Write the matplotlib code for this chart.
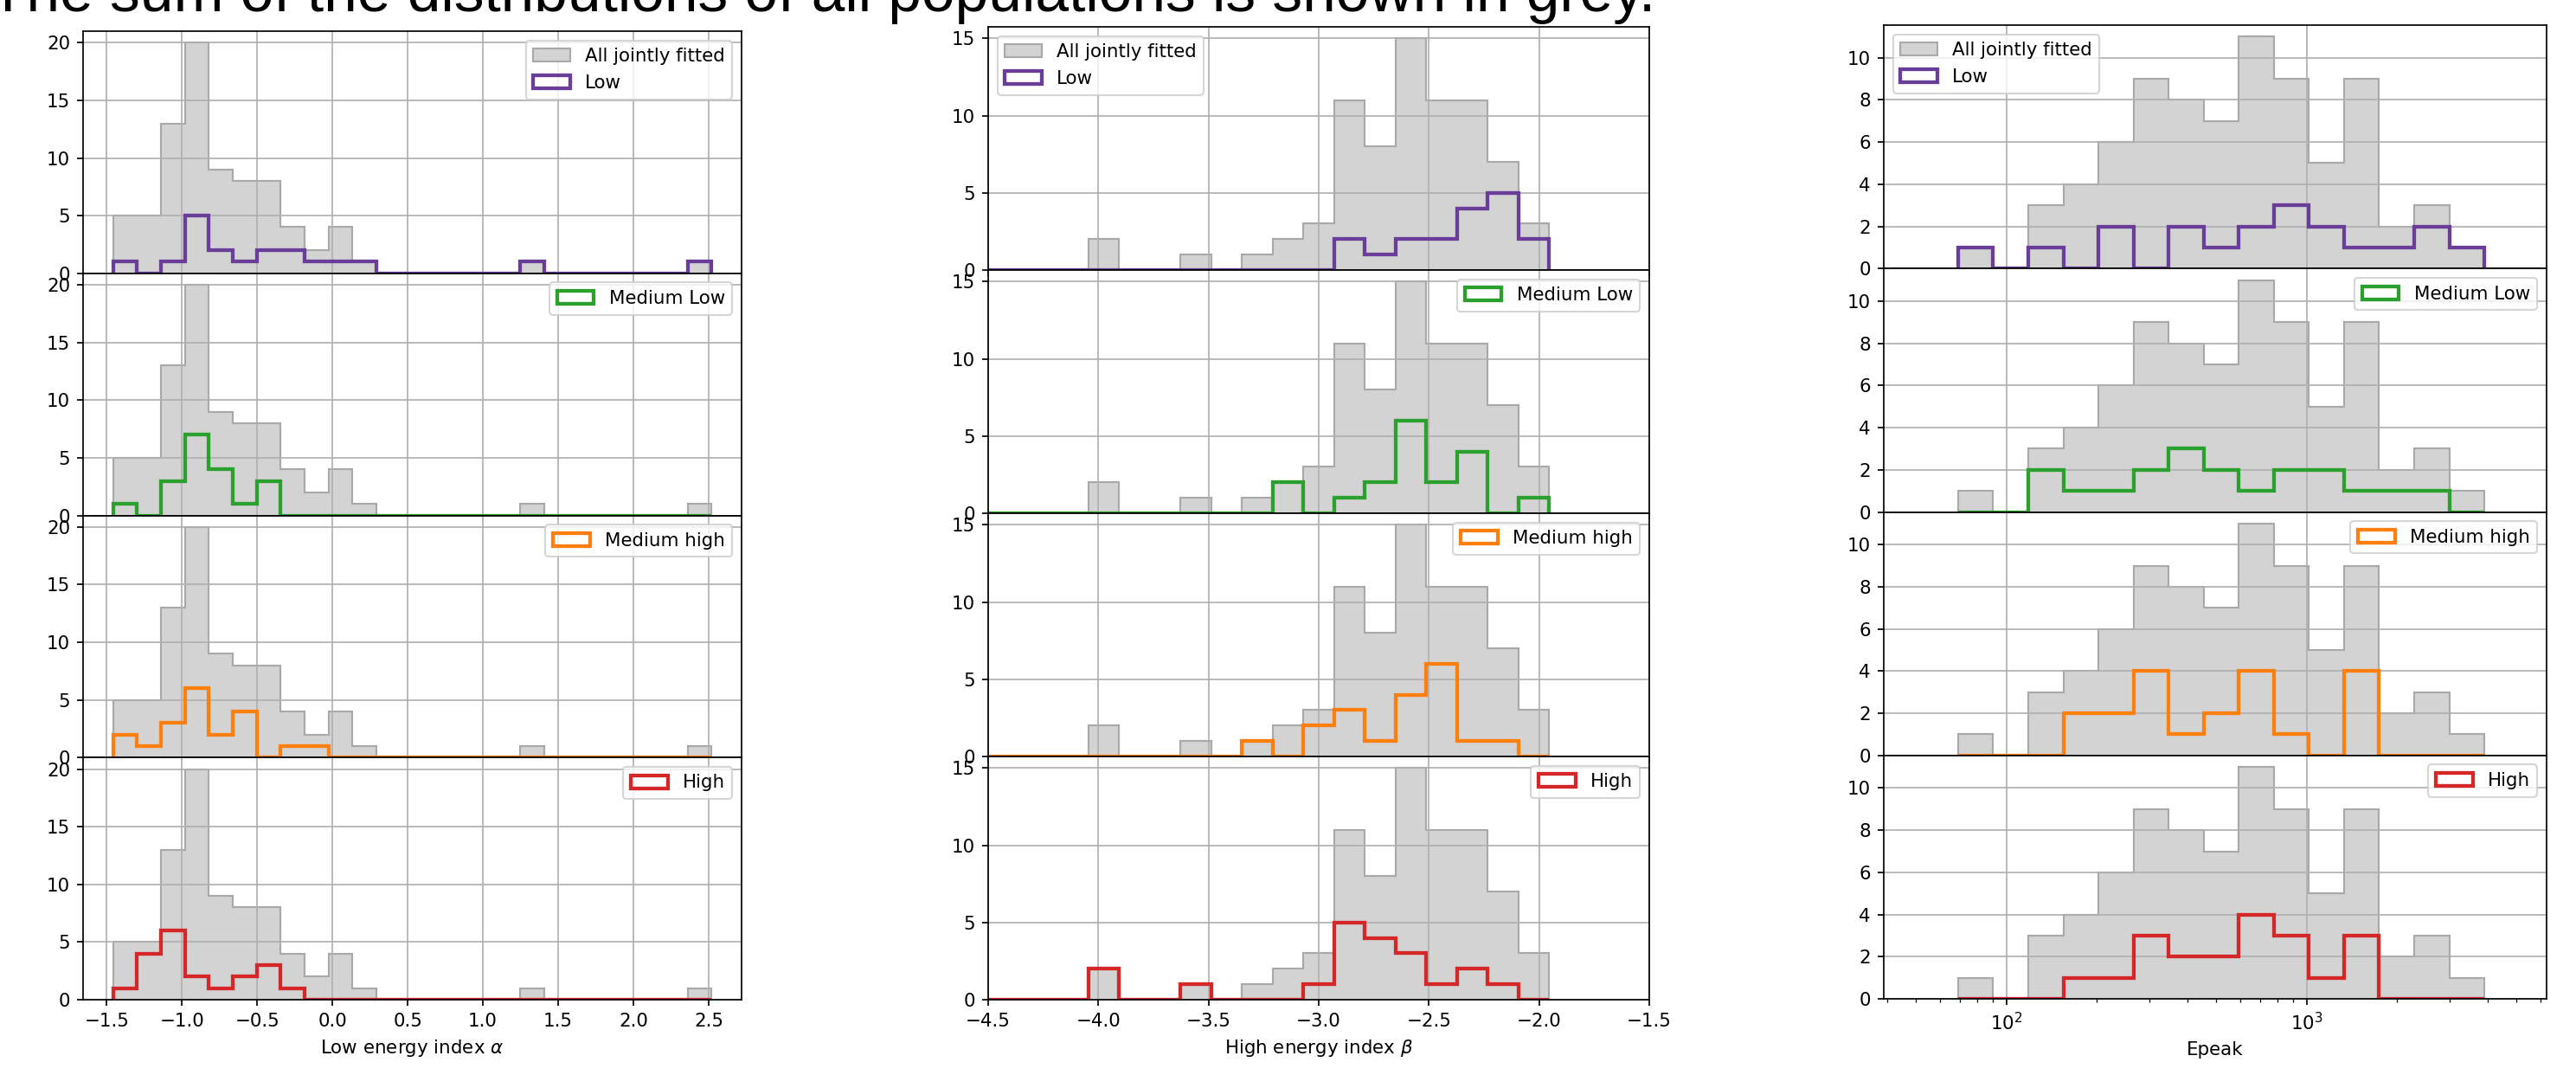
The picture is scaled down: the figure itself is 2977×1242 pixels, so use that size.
import numpy as np
import matplotlib
matplotlib.use("Agg")
import matplotlib.pyplot as plt

W, H, DPI = 2977, 1242, 154

POPULATIONS = ["Low", "Medium Low", "Medium high", "High"]
POP_COLORS = ["#6a3d9a", "#2ca02c", "#ff7f0e", "#d62728"]
ALL_LABEL = "All jointly fitted"

# low energy index alpha, 25 linear bins
ALPHA_RANGE = (-1.458, 2.52)
ALPHA_NBINS = 25
ALPHA_ALL = [5, 5, 13, 20, 9, 8, 8, 4, 2, 4, 1, 0, 0, 0, 0, 0, 0, 1, 0, 0, 0, 0, 0, 0, 1]
ALPHA_LOW = [1, 0, 1, 5, 2, 1, 2, 2, 1, 1, 1, 0, 0, 0, 0, 0, 0, 1, 0, 0, 0, 0, 0, 0, 1]
ALPHA_MLOW = [1, 0, 3, 7, 4, 1, 3, 0, 0, 0, 0, 0, 0, 0, 0, 0, 0, 0, 0, 0, 0, 0, 0, 0, 0]
ALPHA_MHIGH = [2, 1, 3, 6, 2, 4, 0, 1, 1, 0, 0, 0, 0, 0, 0, 0, 0, 0, 0, 0, 0, 0, 0, 0, 0]
ALPHA_HIGH = [1, 4, 6, 2, 1, 2, 3, 1, 0, 0, 0, 0, 0, 0, 0, 0, 0, 0, 0, 0, 0, 0, 0, 0, 0]

# high energy index beta, 15 linear bins
BETA_RANGE = (-4.045, -1.954)
BETA_NBINS = 15
BETA_STEP_START = -4.6
BETA_ALL = [2, 0, 0, 1, 0, 1, 2, 3, 11, 8, 15, 11, 11, 7, 3]
BETA_LOW = [0, 0, 0, 0, 0, 0, 0, 0, 2, 1, 2, 2, 4, 5, 2]
BETA_MLOW = [0, 0, 0, 0, 0, 0, 2, 0, 1, 2, 6, 2, 4, 0, 1]
BETA_MHIGH = [0, 0, 0, 0, 0, 1, 0, 2, 3, 1, 4, 6, 1, 1, 0]
BETA_HIGH = [2, 0, 0, 1, 0, 0, 0, 1, 5, 4, 3, 1, 2, 1, 0]

# peak energy, 15 log bins
EPEAK_RANGE = (69.0, 3908.0)
EPEAK_NBINS = 15
EPEAK_ALL = [1, 0, 3, 4, 6, 9, 8, 7, 11, 9, 5, 9, 2, 3, 1]
EPEAK_LOW = [1, 0, 1, 0, 2, 0, 2, 1, 2, 3, 2, 1, 1, 2, 1]
EPEAK_MLOW = [0, 0, 2, 1, 1, 2, 3, 2, 1, 2, 2, 1, 1, 1, 0]
EPEAK_MHIGH = [0, 0, 0, 2, 2, 4, 1, 2, 4, 1, 0, 4, 0, 0, 0]
EPEAK_HIGH = [0, 0, 0, 1, 1, 3, 2, 2, 4, 3, 1, 3, 0, 0, 0]


def draw_column(fig, left, width, bottom, height, edges, all_counts, pop_counts,
                xlabel, first_legend_loc, step_start=None, log=False, xlim=None):
    edges = np.asarray(edges)
    centers = 0.5 * (edges[:-1] + edges[1:])
    step_edges, step_centers = edges, centers
    if step_start is not None:
        step_edges = np.r_[step_start, edges]
        step_centers = 0.5 * (step_edges[:-1] + step_edges[1:])

    axes = []
    for i in range(4):
        y0 = bottom + (3 - i) * height
        ax = fig.add_axes([left, y0, width, height],
                          sharex=axes[0] if axes else None)
        axes.append(ax)

    for i, ax in enumerate(axes):
        ax.hist(centers, bins=edges, weights=all_counts, histtype="stepfilled",
                fc="lightgrey", ec="darkgrey", lw=1.0,
                label=ALL_LABEL if i == 0 else None)
        counts = pop_counts[i]
        if step_start is not None:
            counts = [0] + list(counts)
        ax.hist(step_centers, bins=step_edges, weights=counts, histtype="step",
                color=POP_COLORS[i], lw=2.0, label=POPULATIONS[i])
        if log:
            ax.set_xscale("log")
        ax.grid(True)
        ax.legend(loc=first_legend_loc if i == 0 else "upper right")
        if i < 3:
            ax.tick_params(labelbottom=False)
    if xlim is not None:
        axes[0].set_xlim(*xlim)
    axes[-1].set_xlabel(xlabel)
    return axes


fig = plt.figure(figsize=(W / DPI, H / DPI), dpi=DPI)

alpha_edges = np.linspace(*ALPHA_RANGE, ALPHA_NBINS + 1)
beta_edges = np.linspace(*BETA_RANGE, BETA_NBINS + 1)
epeak_edges = np.logspace(np.log10(EPEAK_RANGE[0]), np.log10(EPEAK_RANGE[1]), EPEAK_NBINS + 1)

draw_column(fig, 96 / W, 761 / W, 1 - 1155 / H, 279.75 / H, alpha_edges, ALPHA_ALL,
            [ALPHA_LOW, ALPHA_MLOW, ALPHA_MHIGH, ALPHA_HIGH],
            r"Low energy index $\alpha$", "upper right")
draw_column(fig, 1142 / W, 764 / W, 1 - 1155 / H, 281 / H, beta_edges, BETA_ALL,
            [BETA_LOW, BETA_MLOW, BETA_MHIGH, BETA_HIGH],
            r"High energy index $\beta$", "upper left",
            step_start=BETA_STEP_START, xlim=(-4.5, -1.5))
draw_column(fig, 2177 / W, 766 / W, 1 - 1154 / H, 281.25 / H, epeak_edges, EPEAK_ALL,
            [EPEAK_LOW, EPEAK_MLOW, EPEAK_MHIGH, EPEAK_HIGH],
            "Epeak", "upper left", log=True, xlim=(39, 6300))

fig.text(-12 / W, 1 - 13 / H, "The sum of the distributions of all populations is shown in grey.",
         family="Liberation Sans", fontsize=32.5, va="baseline", ha="left")

fig.savefig("out.png", dpi=DPI)
